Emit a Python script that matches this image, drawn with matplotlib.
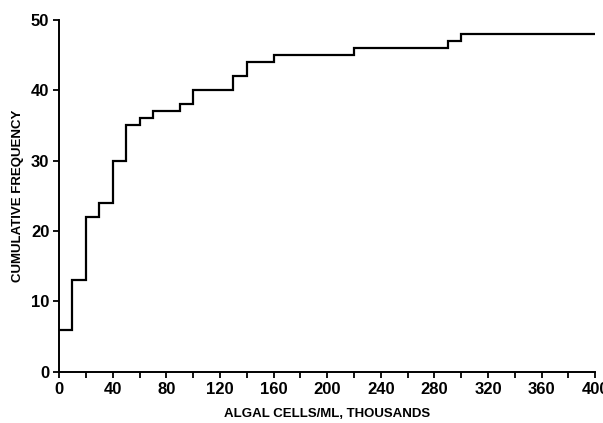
import matplotlib
matplotlib.use("Agg")
import matplotlib.pyplot as plt

# step edges (thousand cells/ml) and cumulative frequency on each step
edges = [0, 10, 20, 30, 40, 50, 60, 70, 90, 100, 130, 140, 160, 220, 290, 300, 400]
freq = [6, 13, 22, 24, 30, 35, 36, 37, 38, 40, 42, 44, 45, 46, 47, 48]
xticks_major = [0, 40, 80, 120, 160, 200, 240, 280, 320, 360, 400]
xticks_minor = list(range(20, 400, 40))
yticks = [0, 10, 20, 30, 40, 50]

plt.rcParams['font.family'] = ['Liberation Sans Narrow', 'Liberation Sans', 'DejaVu Sans']
plt.rcParams['font.weight'] = 'bold'

fig = plt.figure(figsize=(6.03, 4.23), dpi=100)
ax = fig.add_axes([0.098, 0.121, 0.889, 0.832])

ax.stairs(freq, edges, color="black", lw=1.6, baseline=None)

ax.set_xlim(0, 400); ax.set_ylim(0, 50)
ax.spines['top'].set_visible(False); ax.spines['right'].set_visible(False)
for s in ('left', 'bottom'):
    ax.spines[s].set_linewidth(1.4)
ax.set_xticks(xticks_major)
ax.set_xticks(xticks_minor, minor=True)
ax.set_yticks(yticks)
ax.tick_params(axis='both', which='major', direction='out', length=4, width=1.3,
               labelsize=12, pad=3)
ax.tick_params(axis='x', which='minor', direction='out', length=4, width=1.3)
for lab in ax.get_xticklabels() + ax.get_yticklabels():
    lab.set_fontweight('bold')

ax.set_ylabel("CUMULATIVE FREQUENCY", fontsize=9.5, fontweight='bold', labelpad=5)
ax.set_xlabel("ALGAL CELLS/ML, THOUSANDS", fontsize=9.5, fontweight='bold', labelpad=8)

fig.savefig("out.png", dpi=100)
